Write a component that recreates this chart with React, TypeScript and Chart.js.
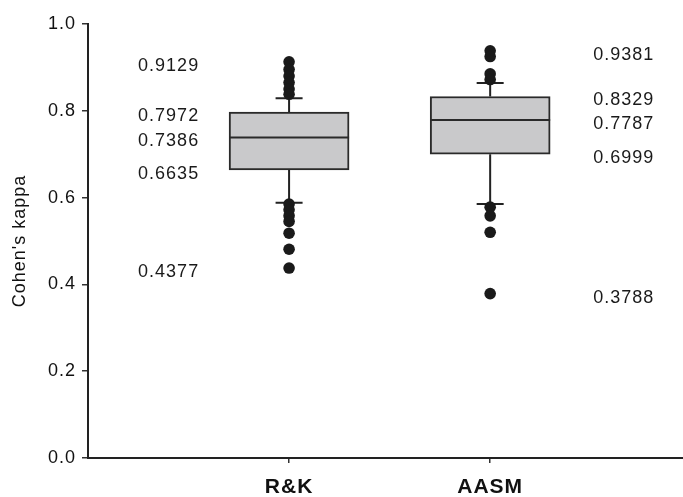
import React, { useEffect, useRef } from 'react';
import { Chart, registerables } from 'chart.js';

Chart.register(...registerables);

// ---- data ----
const categories = ['R&K', 'AASM'];
const categoryPositions = [1, 2];
const q1 = [0.6635, 0.6999];
const medians = [0.7386, 0.7787];
const q3 = [0.7972, 0.8329];
const whiskerLow = [0.588, 0.585];
const whiskerHigh = [0.829, 0.864];
const outliersRK = [0.9129, 0.895, 0.88, 0.865, 0.85, 0.838, 0.585, 0.572, 0.558, 0.545, 0.518, 0.481, 0.4377];
const outliersAASM = [0.9381, 0.925, 0.885, 0.872, 0.578, 0.558, 0.52, 0.3788];
const annotationsRK = ['0.9129', '0.7972', '0.7386', '0.6635', '0.4377'];
const annotationsAASM = ['0.9381', '0.8329', '0.7787', '0.6999', '0.3788'];
const yTicks = [0, 0.2, 0.4, 0.6, 0.8, 1.0];
const yTitle = "Cohen's kappa";

const FONT = "'Liberation Sans', Arial, Helvetica, sans-serif";
const INK = '#1a1a1a';

const boxExtras = {
  id: 'boxExtras',
  beforeDraw(chart: any) {
    (chart.ctx as any).letterSpacing = '1px';
  },
  beforeDatasetsDraw(chart: any) {
    const { ctx, scales } = chart;
    const x = scales.x;
    const y = scales.y;
    ctx.save();
    ctx.strokeStyle = '#222';
    ctx.lineWidth = 2;
    const cap = 13.5;
    categoryPositions.forEach((c, i) => {
      const px = x.getPixelForValue(c);
      const hi = y.getPixelForValue(whiskerHigh[i]);
      const lo = y.getPixelForValue(whiskerLow[i]);
      ctx.beginPath();
      ctx.moveTo(px, hi);
      ctx.lineTo(px, y.getPixelForValue(q3[i]));
      ctx.moveTo(px, y.getPixelForValue(q1[i]));
      ctx.lineTo(px, lo);
      ctx.moveTo(px - cap, hi);
      ctx.lineTo(px + cap, hi);
      ctx.moveTo(px - cap, lo);
      ctx.lineTo(px + cap, lo);
      ctx.stroke();
    });
    ctx.restore();
  },
  afterDatasetsDraw(chart: any) {
    const { ctx, scales } = chart;
    const x = scales.x;
    const y = scales.y;
    const meta = chart.getDatasetMeta(0);
    ctx.save();
    ctx.strokeStyle = '#2a2a2a';
    ctx.lineWidth = 2;
    categoryPositions.forEach((c, i) => {
      const bar = meta.data[i];
      const half = bar.width / 2;
      const my = y.getPixelForValue(medians[i]);
      ctx.beginPath();
      ctx.moveTo(bar.x - half, my);
      ctx.lineTo(bar.x + half, my);
      ctx.stroke();
    });
    ctx.fillStyle = INK;
    ctx.font = `18px ${FONT}`;
    ctx.textAlign = 'left';
    ctx.textBaseline = 'middle';
    const leftX = x.getPixelForValue(categoryPositions[0]) - 151;
    const rightX = x.getPixelForValue(categoryPositions[1]) + 103;
    annotationsRK.forEach((t) => {
      ctx.fillText(t, leftX, y.getPixelForValue(parseFloat(t)) + 4);
    });
    annotationsAASM.forEach((t) => {
      ctx.fillText(t, rightX, y.getPixelForValue(parseFloat(t)) + 4);
    });
    ctx.restore();
  },
};

export default function App() {
  const ref = useRef<HTMLCanvasElement | null>(null);

  useEffect(() => {
    if (!ref.current) return;
    Chart.defaults.font.family = FONT;
    const chart = new Chart(ref.current, {
      type: 'bar',
      data: {
        datasets: [
          {
            type: 'bar',
            data: categoryPositions.map((c, i) => ({ x: c, y: [q1[i], q3[i]] })) as any,
            backgroundColor: '#c9c9cb',
            borderColor: '#2a2a2a',
            borderWidth: 2,
            borderSkipped: false,
            barThickness: 120,
            order: 2,
          } as any,
          {
            type: 'scatter',
            data: outliersRK.map((v) => ({ x: categoryPositions[0], y: v })),
            pointRadius: 5.8,
            pointBackgroundColor: INK,
            pointBorderWidth: 0,
            showLine: false,
            order: 0,
          } as any,
          {
            type: 'scatter',
            data: outliersAASM.map((v) => ({ x: categoryPositions[1], y: v })),
            pointRadius: 5.8,
            pointBackgroundColor: INK,
            pointBorderWidth: 0,
            showLine: false,
            order: 0,
          } as any,
        ],
      },
      options: {
        animation: false,
        responsive: true,
        maintainAspectRatio: false,
        layout: { padding: { top: 24, right: 0, bottom: 0, left: 0 } },
        plugins: { legend: { display: false }, tooltip: { enabled: false } },
        scales: {
          x: {
            type: 'linear',
            min: 0,
            max: 2.96,
            offset: false,
            afterBuildTicks: (s: any) => {
              s.ticks = categoryPositions.map((v) => ({ value: v }));
            },
            afterFit: (s: any) => {
              s.height = 39;
            },
            ticks: {
              callback: (v: any) => {
                const idx = categoryPositions.indexOf(Number(v));
                return idx >= 0 ? categories[idx] : '';
              },
              font: { family: FONT, size: 21, weight: 'bold' },
              color: '#111',
              padding: 12,
              maxRotation: 0,
              autoSkip: false,
            },
            grid: { offset: false, drawOnChartArea: false, drawTicks: true, tickLength: 5, color: '#333', lineWidth: 1.5 },
            border: { display: true, color: '#222', width: 2 },
          },
          y: {
            type: 'linear',
            min: 0,
            max: 1,
            afterBuildTicks: (s: any) => {
              s.ticks = yTicks.map((v) => ({ value: v }));
            },
            afterFit: (s: any) => {
              s.width = 88;
            },
            ticks: {
              callback: (v: any) => Number(v).toFixed(1),
              font: { family: FONT, size: 18 },
              color: '#111',
              padding: 6,
            },
            grid: { drawOnChartArea: false, drawTicks: true, tickLength: 6, color: '#333', lineWidth: 1.5 },
            border: { display: true, color: '#222', width: 2 },
            title: {
              display: true,
              text: yTitle,
              font: { family: FONT, size: 18 },
              color: '#111',
              padding: { top: 9, bottom: 0 },
            },
          },
        },
      } as any,
      plugins: [boxExtras],
    });
    return () => chart.destroy();
  }, []);

  return (
    <div style={{ position: 'absolute', left: 0, top: 0, width: 683, height: 497, overflow: 'hidden', background: '#fff' }}>
      <div style={{ position: 'relative', width: 689, height: 497 }}>
        <canvas ref={ref} />
      </div>
    </div>
  );
}
